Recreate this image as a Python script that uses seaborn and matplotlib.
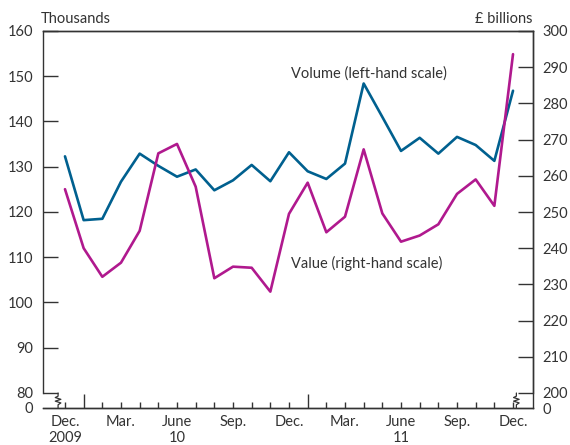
import matplotlib
matplotlib.use("Agg")
import matplotlib.pyplot as plt
import seaborn as sns
import pandas as pd

# data: monthly, Dec 2009 .. Dec 2011
month_labels = ["Dec.\n2009", "", "", "Mar.", "", "", "June\n10", "", "", "Sep.", "", "",
                "Dec.", "", "", "Mar.", "", "", "June\n11", "", "", "Sep.", "", "", "Dec."]
volume = [132.3, 118.2, 118.5, 126.7, 132.9, 130.2, 127.8, 129.4, 124.8, 127.0, 130.4, 126.8,
          133.2, 129.0, 127.3, 130.7, 148.4, 141.0, 133.5, 136.4, 132.9, 136.6, 134.8, 131.3, 146.8]
value = [256.3, 240.0, 232.1, 236.0, 244.8, 266.2, 268.8, 257.0, 231.7, 234.9, 234.6, 228.0,
         249.5, 258.1, 244.4, 248.7, 267.3, 249.6, 241.8, 243.5, 246.6, 255.0, 259.0, 251.7, 293.6]
left_ticks = [80, 90, 100, 110, 120, 130, 140, 150, 160]
right_ticks = [200, 210, 220, 230, 240, 250, 260, 270, 280, 290, 300]

df = pd.DataFrame({"month": range(len(volume)), "volume": volume, "value": value})

sns.set_theme(style="white")
plt.rcParams["font.family"] = ["Lato", "DejaVu Sans"]
ink = "#333333"
blue = "#00608f"
magenta = "#b0198e"
fs = 10.5

fig = plt.figure(figsize=(5.7, 4.45), dpi=100)
ax = fig.add_axes([43 / 570, 37 / 445, 490 / 570, 377 / 445])
ax2 = ax.twinx()

sns.lineplot(data=df, x="month", y="volume", ax=ax, color=blue, linewidth=1.9)
sns.lineplot(data=df, x="month", y="value", ax=ax2, color=magenta, linewidth=1.9)

# axis break: bottom of each scale sits a little below the first real tick
lo_left = 80 - 15 / 4.525
lo_right = 200 - 15 / 3.62
ax.set_xlim(-22 / 18.68, 24 + 20 / 18.68)
ax.set_ylim(lo_left, 160)
ax2.set_ylim(lo_right, 300)

for a in (ax, ax2):
    for s in a.spines.values():
        s.set_color(ink)
        s.set_linewidth(1.0)
    a.set_xlabel("")
    a.set_ylabel("")
    a.grid(False)
ax.spines["left"].set_bounds(80, 160)
ax2.spines["right"].set_bounds(200, 300)
ax2.spines["left"].set_visible(False)

ax.set_yticks([lo_left] + left_ticks)
ax.set_yticklabels(["0"] + [str(t) for t in left_ticks])
ax.tick_params(axis="y", direction="in", length=11, width=1.0, color=ink,
               labelsize=fs, labelcolor=ink, pad=7, left=True)
ax.yaxis.get_major_ticks()[0].tick1line.set_visible(False)

ax2.set_yticks([lo_right] + right_ticks)
ax2.set_yticklabels(["0"] + [str(t) for t in right_ticks])
ax2.tick_params(axis="y", direction="in", length=11, width=1.0, color=ink,
                labelsize=fs, labelcolor=ink, pad=7, right=True)
ax2.yaxis.get_major_ticks()[0].tick2line.set_visible(False)

# month ticks (minor, labelled) and year-start ticks (major, longer)
ax.set_xticks(range(len(month_labels)), minor=True)
ax.set_xticklabels(month_labels, minor=True)
ax.set_xticks([1, 13])
ax.set_xticklabels(["", ""])
ax.tick_params(axis="x", which="minor", direction="in", length=4, width=1.0, color=ink,
               labelsize=fs, labelcolor=ink, pad=5, bottom=True)
ax.tick_params(axis="x", which="major", direction="in", length=10, width=1.0, color=ink,
               bottom=True)

# zigzag break marks
zx = [-0.37, -0.37, -0.52, -0.22, -0.52, -0.22, -0.37, -0.37]
zy = [80, 79.3, 79.0, 78.6, 78.2, 77.8, 77.4, lo_left]
ax.plot(zx, zy, color=ink, linewidth=0.9, clip_on=False)
ax.plot([x + 24.55 for x in zx], zy, color=ink, linewidth=0.9, clip_on=False)

ax.text(-0.004, 1.032, "Thousands", transform=ax.transAxes, ha="left", va="center",
        fontsize=fs, color=ink)
ax.text(0.998, 1.032, "£ billions", transform=ax.transAxes, ha="right", va="center",
        fontsize=fs, color=ink)
ax.text(12.1, 150.7, "Volume (left-hand scale)", ha="left", va="center", fontsize=fs, color=ink)
ax.text(12.1, 108.7, "Value (right-hand scale)", ha="left", va="center", fontsize=fs, color=ink)

fig.savefig("out.png", dpi=100)
